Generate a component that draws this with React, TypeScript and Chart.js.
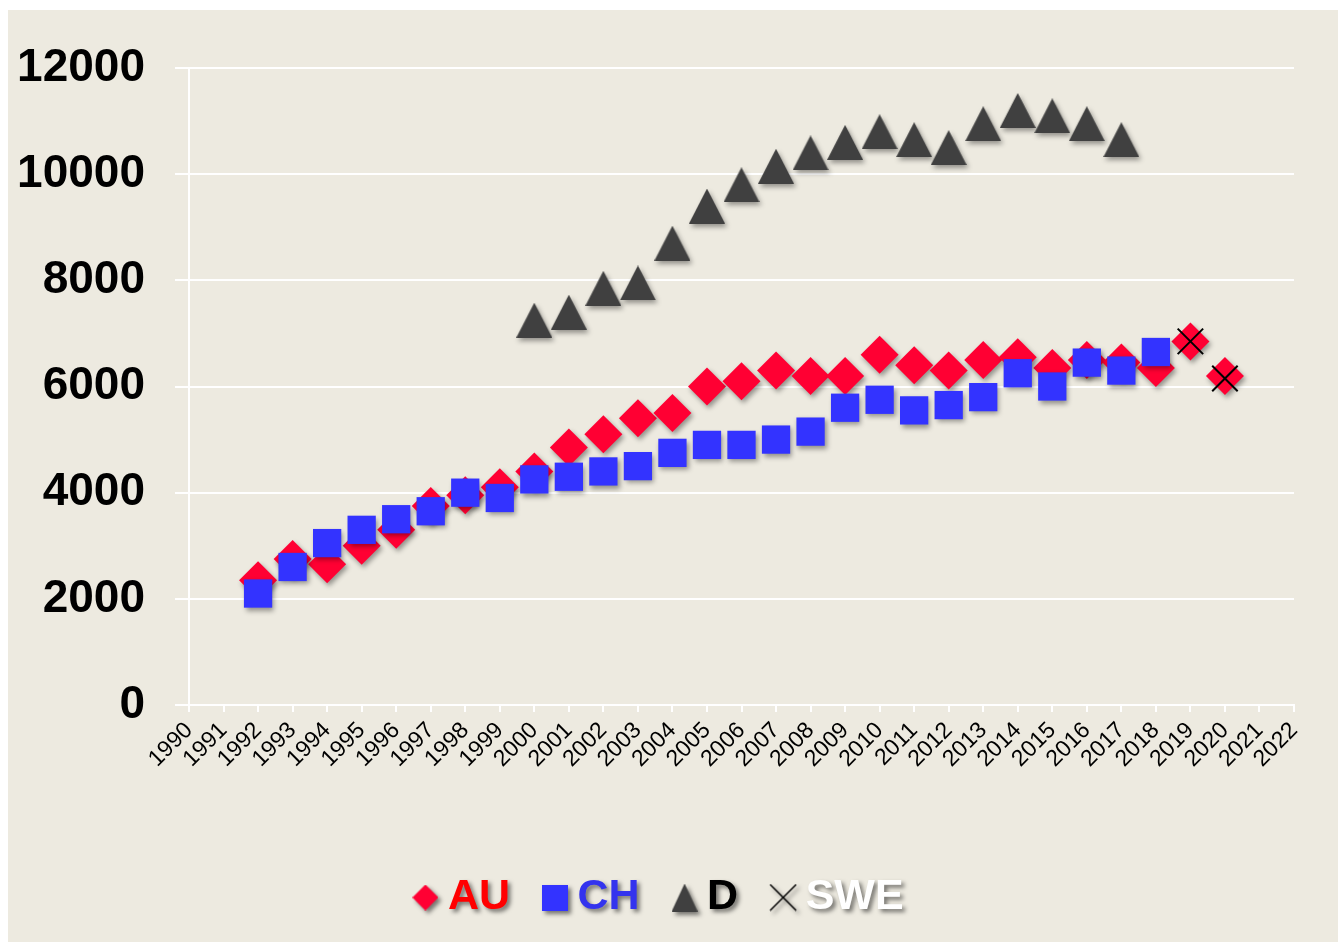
import React, { useEffect, useRef } from "react";
import { Chart, registerables } from "chart.js";

Chart.register(...registerables);

const years = [
  "1990", "1991", "1992", "1993", "1994", "1995", "1996", "1997", "1998", "1999",
  "2000", "2001", "2002", "2003", "2004", "2005", "2006", "2007", "2008", "2009",
  "2010", "2011", "2012", "2013", "2014", "2015", "2016", "2017", "2018", "2019",
  "2020", "2021", "2022",
];

const auValues = [
  null, null, 2350, 2750, 2650, 3000, 3300, 3750, 3950, 4100,
  4400, 4850, 5100, 5400, 5500, 6000, 6100, 6300, 6200, 6200,
  6600, 6400, 6300, 6500, 6550, 6350, 6500, 6450, 6350, 6850,
  6200, null, null,
];

const chValues = [
  null, null, 2100, 2600, 3050, 3300, 3500, 3650, 4000, 3900,
  4250, 4300, 4400, 4500, 4750, 4900, 4900, 5000, 5150, 5600,
  5750, 5550, 5650, 5800, 6250, 6000, 6450, 6300, 6650, null,
  null, null, null,
];

const dValues = [
  null, null, null, null, null, null, null, null, null, null,
  7250, 7400, 7850, 7950, 8700, 9400, 9800, 10150, 10400, 10600,
  10800, 10650, 10500, 10950, 11200, 11100, 10950, 10650, null, null,
  null, null, null,
];

const sweValues = [
  null, null, null, null, null, null, null, null, null, null,
  null, null, null, null, null, null, null, null, null, null,
  null, null, null, null, null, null, null, null, null, 6850,
  6150, null, null,
];

const seriesNames = ["AU", "CH", "D", "SWE"];
const markerColors = ["#FF0033", "#3333FF", "#404040", "#000000"];
const legendTextColors = ["#FF0000", "#3333EE", "#000000", "#FFFFFF"];

const FONT = "'Liberation Sans', Arial, Helvetica, sans-serif";

function makeCanvas(w: number, h: number, draw: (c: CanvasRenderingContext2D) => void) {
  const cv = document.createElement("canvas");
  cv.width = w;
  cv.height = h;
  const c = cv.getContext("2d") as CanvasRenderingContext2D;
  draw(c);
  return cv;
}

function triangle(w: number, h: number, color: string) {
  return makeCanvas(w, h, (c) => {
    c.beginPath();
    c.moveTo(w / 2, 0);
    c.lineTo(w, h);
    c.lineTo(0, h);
    c.closePath();
    c.fillStyle = color;
    c.fill();
  });
}

const shadowPlugin = {
  id: "shadows",
  afterLayout(chart: any) {
    const lg: any = chart.legend;
    if (lg) {
      lg.left += 13;
      lg.right += 13;
    }
  },
  beforeDatasetDraw(chart: any, args: any) {
    const ctx = chart.ctx;
    ctx.save();
    if (chart.data.datasets[args.index].label !== "SWE") {
      ctx.shadowColor = "rgba(0,0,0,0.38)";
      ctx.shadowBlur = 5;
      ctx.shadowOffsetX = 2;
      ctx.shadowOffsetY = 3;
    }
  },
  afterDatasetDraw(chart: any) {
    chart.ctx.restore();
  },
  beforeDraw(chart: any) {
    const lg: any = chart.legend;
    if (lg && !lg.__wrapped) {
      const orig = lg.draw.bind(lg);
      lg.draw = function (...a: any[]) {
        const ctx = chart.ctx;
        ctx.save();
        ctx.shadowColor = "rgba(0,0,0,0.5)";
        ctx.shadowBlur = 4;
        ctx.shadowOffsetX = 3;
        ctx.shadowOffsetY = 3;
        orig(...a);
        ctx.restore();
      };
      lg.__wrapped = true;
    }
  },
};

export default function App() {
  const ref = useRef<HTMLCanvasElement>(null);

  useEffect(() => {
    if (!ref.current) return;

    const triImg = triangle(36, 35, markerColors[2]);

    const legDiamond = makeCanvas(26, 26, (c) => {
      c.beginPath();
      c.moveTo(13, 0);
      c.lineTo(26, 13);
      c.lineTo(13, 26);
      c.lineTo(0, 13);
      c.closePath();
      c.fillStyle = markerColors[0];
      c.fill();
    });
    const legSquare = makeCanvas(26, 26, (c) => {
      c.fillStyle = markerColors[1];
      c.fillRect(0, 0, 26, 26);
    });
    const legTri = triangle(26, 28, markerColors[2]);
    const legCross = makeCanvas(28, 28, (c) => {
      c.strokeStyle = "#000";
      c.lineWidth = 1.5;
      c.beginPath();
      c.moveTo(1, 1);
      c.lineTo(27, 27);
      c.moveTo(27, 1);
      c.lineTo(1, 27);
      c.stroke();
    });
    const legendMarkers = [legDiamond, legSquare, legTri, legCross];

    const chart = new Chart(ref.current, {
      type: "line",
      data: {
        labels: years,
        datasets: [
          {
            label: seriesNames[0],
            data: auValues,
            showLine: false,
            pointStyle: "rectRot",
            pointRadius: 19,
            pointHoverRadius: 19,
            pointBackgroundColor: markerColors[0],
            pointBorderWidth: 0,
            order: 2,
            clip: false,
          },
          {
            label: seriesNames[1],
            data: chValues,
            showLine: false,
            pointStyle: "rect",
            pointRadius: 20,
            pointHoverRadius: 20,
            pointBackgroundColor: markerColors[1],
            pointBorderWidth: 0,
            order: 1,
            clip: false,
          },
          {
            label: seriesNames[2],
            data: dValues,
            showLine: false,
            pointStyle: triImg as any,
            pointRadius: 18,
            pointHoverRadius: 18,
            pointBackgroundColor: markerColors[2],
            pointBorderWidth: 0,
            order: 3,
            clip: false,
          },
          {
            label: seriesNames[3],
            data: sweValues,
            showLine: false,
            pointStyle: "crossRot",
            pointRadius: 18,
            pointHoverRadius: 18,
            pointBorderColor: markerColors[3],
            pointBorderWidth: 2,
            order: 0,
            clip: false,
          },
        ] as any,
      },
      options: {
        responsive: false,
        animation: false,
        devicePixelRatio: 1,
        events: [],
        layout: { padding: { left: 0, right: 44, top: 58, bottom: 13 } },
        plugins: {
          tooltip: { enabled: false },
          legend: {
            display: true,
            position: "bottom",
            align: "center",
            labels: {
              usePointStyle: true,
              boxWidth: 2,
              boxHeight: 2,
              padding: 44,
              font: { family: FONT, size: 43, weight: "bold" },
              generateLabels: () =>
                seriesNames.map((name, i) => ({
                  text: name,
                  fontColor: legendTextColors[i],
                  fillStyle: markerColors[i],
                  strokeStyle: markerColors[i],
                  lineWidth: 0,
                  pointStyle: legendMarkers[i] as any,
                  hidden: false,
                  datasetIndex: i,
                })),
            },
          },
        },
        scales: {
          x: {
            type: "category",
            offset: false,
            grid: {
              display: true,
              drawOnChartArea: false,
              drawTicks: true,
              tickLength: 7,
              color: "#FFFFFF",
              lineWidth: 2,
            },
            border: { display: true, color: "#FFFFFF", width: 2 },
            ticks: {
              autoSkip: false,
              maxRotation: 45,
              minRotation: 45,
              padding: 5,
              color: "#000000",
              font: { family: FONT, size: 23 },
            },
            afterFit: (s: any) => {
              s.height = 127;
            },
          },
          y: {
            min: 0,
            max: 12000,
            ticks: {
              stepSize: 2000,
              padding: 30,
              color: "#000000",
              font: { family: FONT, size: 46, weight: "bold" },
              callback: (v: any) => String(v),
            },
            grid: { color: "#FFFFFF", lineWidth: 2, tickLength: 14 },
            border: { display: true, color: "#FFFFFF", width: 2 },
            afterFit: (s: any) => {
              s.width = 181;
            },
          },
        },
      },
      plugins: [shadowPlugin as any],
    });

    return () => chart.destroy();
  }, []);

  return (
    <div
      style={{
        position: "absolute",
        left: 8,
        top: 10,
        width: 1330,
        height: 932,
        background: "#EDEAE0",
        overflow: "hidden",
      }}
    >
      <canvas ref={ref} width={1330} height={932} style={{ display: "block" }} />
    </div>
  );
}
